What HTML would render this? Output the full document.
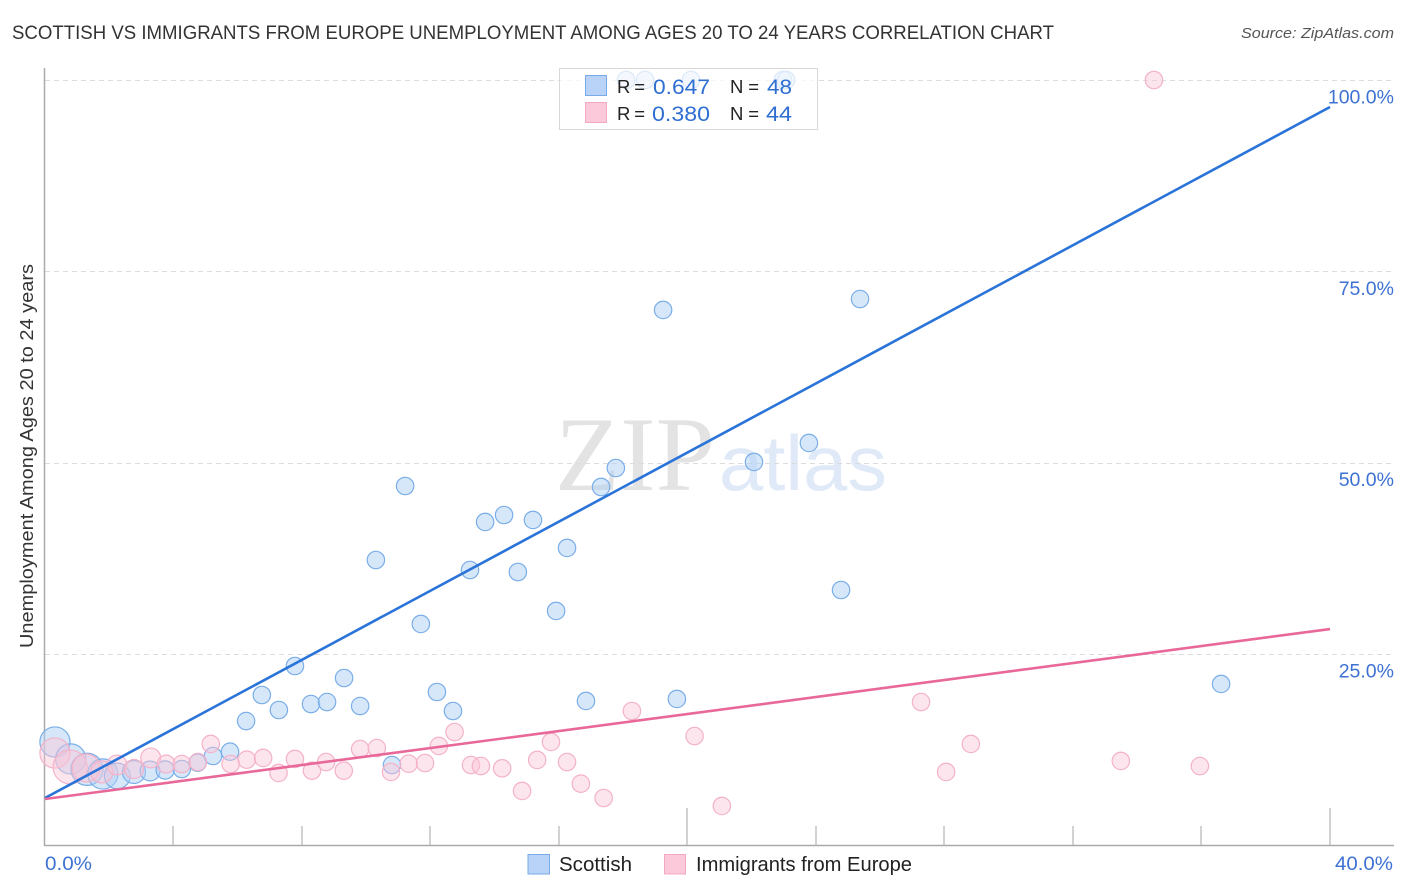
<!DOCTYPE html>
<html>
<head>
<meta charset="utf-8">
<title>Scottish vs Immigrants from Europe chart</title>
<style>
html,body{margin:0;padding:0;background:#fff;width:1406px;height:892px;overflow:hidden}
svg{display:block}
text{font-family:"Liberation Sans",sans-serif}
</style>
</head>
<body>
<svg id="chart" width="1406" height="892" viewBox="0 0 1406 892" xmlns="http://www.w3.org/2000/svg">
  <rect x="0" y="0" width="1406" height="892" fill="#fff"/>
  <text x="12" y="39" font-size="19" fill="#333" textLength="1042" lengthAdjust="spacingAndGlyphs">SCOTTISH VS IMMIGRANTS FROM EUROPE UNEMPLOYMENT AMONG AGES 20 TO 24 YEARS CORRELATION CHART</text>
  <text x="1394" y="38" font-size="15" font-style="italic" fill="#555" text-anchor="end" textLength="153" lengthAdjust="spacingAndGlyphs">Source: ZipAtlas.com</text>
  <g>
    <text x="555" y="490" font-size="106" fill="#e3e3e3" style="font-family:'Liberation Serif',serif" textLength="160" lengthAdjust="spacingAndGlyphs">ZIP</text>
    <text x="719" y="490" font-size="78" fill="#dfe9f8" textLength="168" lengthAdjust="spacingAndGlyphs">atlas</text>
  </g>
  <g id="grid"></g>
  <g id="axes"></g>
  <g id="points"></g>
  <g id="trends"></g>
  <g id="ylabels"></g>
  <g id="xlabels"></g>
  <text transform="translate(33,456) rotate(-90)" font-size="18.5" fill="#333" text-anchor="middle" textLength="384" lengthAdjust="spacingAndGlyphs">Unemployment Among Ages 20 to 24 years</text>

  <g>
    <rect x="559.5" y="68.5" width="258" height="61" fill="#fff" fill-opacity="0.72" stroke="#d8d8d8" stroke-width="1"/>
    <rect x="585.5" y="75.5" width="21" height="20" fill="#b8d3f7" stroke="#79aae8"/>
    <rect x="585.5" y="102.5" width="21" height="20" fill="#fcc9da" stroke="#f4a9c2"/>
    <text x="617" y="93" font-size="18.5" fill="#222" textLength="28">R =</text>
    <text x="653" y="94" font-size="21" fill="#2f6fd2" textLength="57" lengthAdjust="spacingAndGlyphs">0.647</text>
    <text x="730" y="93" font-size="18.5" fill="#222" textLength="29">N =</text>
    <text x="767" y="94" font-size="21" fill="#2f6fd2" textLength="25" lengthAdjust="spacingAndGlyphs">48</text>
    <text x="617" y="120" font-size="18.5" fill="#222" textLength="28">R =</text>
    <text x="652" y="121" font-size="21" fill="#2f6fd2" textLength="58" lengthAdjust="spacingAndGlyphs">0.380</text>
    <text x="730" y="120" font-size="18.5" fill="#222" textLength="29">N =</text>
    <text x="766" y="121" font-size="21" fill="#2f6fd2" textLength="26" lengthAdjust="spacingAndGlyphs">44</text>
  </g>

  <g>
    <g>
      <rect x="528" y="854.5" width="21.5" height="19.5" fill="#b8d3f7" stroke="#79aae8"/>
      <text x="559" y="871" font-size="20" fill="#222" textLength="73" lengthAdjust="spacingAndGlyphs">Scottish</text>
    </g>
    <g>
      <rect x="664.5" y="854.5" width="21" height="19.5" fill="#fcc9da" stroke="#f4a9c2"/>
      <text x="696" y="871" font-size="20" fill="#222" textLength="216" lengthAdjust="spacingAndGlyphs">Immigrants from Europe</text>
    </g>
  </g>
</svg>
<script>
const scottishX = [0.31,0.80,1.31,1.80,2.25,2.77,3.27,3.74,4.26,4.75,5.23,5.76,6.26,6.75,7.28,7.78,8.28,8.78,9.31,9.81,10.30,10.80,11.21,11.70,12.20,12.70,13.23,13.70,14.29,14.72,15.19,15.91,16.25,16.84,17.31,17.77,19.24,19.67,22.07,23.78,24.78,25.37,36.61,18.09,18.68,20.11,22.97,23.07];
const scottishY = [13.50,11.28,9.93,9.32,9.06,9.58,9.71,9.84,9.97,10.79,11.67,12.23,16.24,19.64,17.68,23.43,18.46,18.72,21.86,18.20,37.28,10.49,46.95,28.92,20.03,17.55,35.97,42.25,43.16,35.71,42.51,30.62,38.85,18.86,46.82,49.30,69.95,19.12,50.09,52.57,33.36,71.38,21.08,100,100,100,100,100];
const scottishWeight = [3,3,3.4,3,2.2,1.75,1.3,1.1,1,1,1,1,1,1,1,1,1,1,1,1,1,1,1,1,1,1,1,1,1,1,1,1,1,1,1,1,1,1,1,1,1,1,1,1,1,1,1,1];
const immigrantsX = [0.31,0.78,1.28,1.77,2.24,2.77,3.29,3.77,4.26,4.76,5.16,5.78,6.28,6.79,7.27,7.78,8.31,8.75,9.30,9.81,10.33,10.77,11.32,11.83,12.26,12.75,13.26,13.57,14.23,14.85,15.32,15.75,16.25,16.68,17.39,18.27,20.22,21.07,27.27,28.05,28.82,33.49,35.95,34.52];
const immigrantsY = [12.06,10.23,10.10,9.58,10.49,9.97,11.41,10.62,10.62,10.88,13.24,10.62,11.19,11.41,9.45,11.28,9.75,10.88,9.75,12.58,12.71,9.58,10.66,10.75,12.98,14.80,10.49,10.36,10.06,7.10,11.15,13.50,10.88,8.05,6.18,17.55,14.28,5.14,18.72,9.58,13.24,11.02,10.36,100];
const immigrantsWeight = [3,3.8,2.6,1.6,1.3,1.2,1.3,1.05,1,1,1,1,1,1,1,1,1,1,1,1,1,1,1,1,1,1,1,1,1,1,1,1,1,1,1,1,1,1,1,1,1,1,1,1];
const scottishTrendEnds = [6.18,96.47];
const immigrantsTrendEnds = [6.05,28.26];
const xDomain = [0,40];
const yTickValues = [25,50,75,100];
const yTickLabels = ["25.0%","50.0%","75.0%","100.0%"];
const xTickValues = [4,8,12,16,20,24,28,32,36,40];
const xMajorTicks = [20,40];
const xEndLabels = ["0.0%","40.0%"];

const NS = "http://www.w3.org/2000/svg";
function xs(v){return 45 + v * (1330 - 45) / 40;}
function ys(v){return 845.3 - v * 7.653;}
function rs(w){return 8.7 * Math.sqrt(w);}
function mk(tag, parent, attrs){
  const el = document.createElementNS(NS, tag);
  for (const k in attrs) el.setAttribute(k, attrs[k]);
  parent.appendChild(el);
  return el;
}
const gridG = document.getElementById('grid');
const axesG = document.getElementById('axes');
const pointsG = document.getElementById('points');
const trendsG = document.getElementById('trends');
const yLabG = document.getElementById('ylabels');
const xLabG = document.getElementById('xlabels');

yTickValues.forEach(function(v, i){
  const y = Math.round(ys(v)) + 0.5;
  const g = mk('line', gridG, {x1:45, x2:1394, y1:y, y2:y, stroke:'#dcdcdc', 'stroke-width':1, 'stroke-dasharray':'5 4'});
  
  
  const t = mk('text', yLabG, {x:1394, y:ys(v) + 23.5, 'font-size':19.5, fill:'#3d72d3', 'text-anchor':'end'});
  t.textContent = yTickLabels[i];
  
  
});

const yAxis = mk('line', axesG, {x1:44.5, x2:44.5, y1:68, y2:846, stroke:'#aaa', 'stroke-width':1.5});


const xAxis = mk('line', axesG, {x1:44, x2:1394, y1:845.5, y2:845.5, stroke:'#aaa', 'stroke-width':1.5});


xTickValues.forEach(function(v){
  const x = Math.floor(xs(v)) + 0.5;
  const top = xMajorTicks.indexOf(v) >= 0 ? 808 : 826;
  const tick = mk('line', axesG, {x1:x - 0.5, x2:x - 0.5, y1:top, y2:845, stroke:'#b4b4b4', 'stroke-width':1.2});
  
  
});

const xl0 = mk('text', xLabG, {x:xs(xDomain[0]), y:870, 'font-size':19.5, fill:'#3d72d3', textLength:47, lengthAdjust:'spacingAndGlyphs'});
xl0.textContent = xEndLabels[0];


const xl1 = mk('text', xLabG, {x:1335, y:870, 'font-size':19.5, fill:'#3d72d3', textLength:58, lengthAdjust:'spacingAndGlyphs'});
xl1.textContent = xEndLabels[1];



scottishX.forEach(function(v, i){
  const c = mk('circle', pointsG, {cx:xs(v), cy:ys(scottishY[i]), r:rs(scottishWeight[i]), fill:'#b0cff5', 'fill-opacity':0.5, stroke:'#7aaee8', 'stroke-width':1.2});
  
  
});
immigrantsX.forEach(function(v, i){
  const c = mk('circle', pointsG, {cx:xs(v), cy:ys(immigrantsY[i]), r:rs(immigrantsWeight[i]), fill:'#fbc6d7', 'fill-opacity':0.45, stroke:'#f4b2c8', 'stroke-width':1.2});
  
  
});

const blueLine = mk('line', trendsG, {x1:xs(xDomain[0]), x2:xs(xDomain[1]), y1:ys(scottishTrendEnds[0]), y2:ys(scottishTrendEnds[1]), stroke:'#2a74d9', 'stroke-width':2.6});


const pinkLine = mk('line', trendsG, {x1:xs(xDomain[0]), x2:xs(xDomain[1]), y1:ys(immigrantsTrendEnds[0]), y2:ys(immigrantsTrendEnds[1]), stroke:'#e8689a', 'stroke-width':2.6});


</script>
</body>
</html>
